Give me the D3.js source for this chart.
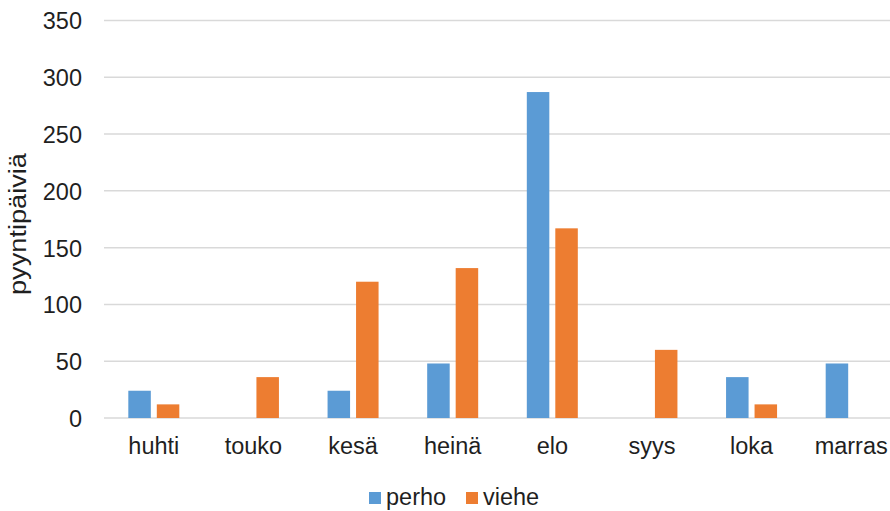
<!DOCTYPE html>
<html>
<head>
<meta charset="utf-8">
<script src="https://cdn.jsdelivr.net/npm/d3@7"></script>
<style>
  html, body { margin: 0; padding: 0; background: #ffffff; }
  svg { display: block; font-family: "Liberation Sans", Arial, sans-serif; }
</style>
</head>
<body>
<svg id="chart" width="890" height="511"></svg>
<script>
// Monthly fishing days by method
const months = ["huhti", "touko", "kesä", "heinä", "elo", "syys", "loka", "marras"];
const seriesNames = ["perho", "viehe"];
const perho = [24, 0, 24, 48, 287, 0, 36, 48];
const viehe = [12, 36, 120, 132, 167, 60, 12, 0];
const yTicks = [0, 50, 100, 150, 200, 250, 300, 350];
const yTitle = "pyyntipäiviä";
const colors = ["#5b9bd5", "#ed7d31"];

const svg = d3.select("#chart");
const W = 890, H = 511;
const FS = 23.5;

const x0 = d3.scaleBand().domain(months).range([104, 901]).padding(0);
const bw = x0.bandwidth();
const x1 = d3.scaleBand().domain(seriesNames)
  .range([bw / 2 - 25.5, bw / 2 + 25.5]).paddingInner(0.21).paddingOuter(0);
const y = d3.scaleLinear().domain([0, 350]).range([418, 20.5]);
const color = d3.scaleOrdinal().domain(seriesNames).range(colors);

// Horizontal gridlines
svg.append("g").selectAll("line").data(yTicks).join("line")
  .attr("x1", 104).attr("x2", W)
  .attr("y1", d => y(d)).attr("y2", d => y(d))
  .attr("stroke", "#d9d9d9").attr("stroke-width", 1.5);

// Y tick labels
const yAxis = d3.axisLeft(y).tickValues(yTicks).tickSize(0).tickPadding(0);
const gy = svg.append("g").attr("transform", "translate(82,0)").call(yAxis);
gy.select(".domain").remove();
gy.selectAll("text")
  .attr("font-size", FS).attr("fill", "#1f1f1f")
  .attr("font-family", "Liberation Sans, Arial, sans-serif")
  .attr("dy", "0.36em");

// Bars
const rows = months.map((m, i) => ({ month: m, values: [perho[i], viehe[i]] }));
const groups = svg.append("g").selectAll("g").data(rows).join("g")
  .attr("transform", d => `translate(${x0(d.month)},0)`);
groups.selectAll("rect")
  .data(d => seriesNames.map((s, j) => ({ s, v: d.values[j] })).filter(e => e.v > 0))
  .join("rect")
  .attr("x", d => x1(d.s))
  .attr("width", x1.bandwidth())
  .attr("y", d => y(d.v))
  .attr("height", d => y(0) - y(d.v))
  .attr("fill", d => color(d.s));

// Category labels
const xAxis = d3.axisBottom(x0).tickSize(0).tickPadding(0);
const gx = svg.append("g").attr("transform", "translate(0,454)").call(xAxis);
gx.select(".domain").remove();
gx.selectAll("text")
  .attr("font-size", FS).attr("fill", "#1f1f1f")
  .attr("font-family", "Liberation Sans, Arial, sans-serif")
  .attr("dy", 0);

// Y axis title
svg.append("text")
  .attr("transform", "translate(26,224) rotate(-90)")
  .attr("text-anchor", "middle")
  .attr("font-size", 23).attr("fill", "#1f1f1f")
  .attr("textLength", 142).attr("lengthAdjust", "spacingAndGlyphs")
  .text(yTitle);

// Legend
const legendX = [369, 466];
const legend = svg.append("g").selectAll("g").data(seriesNames).join("g")
  .attr("transform", (d, i) => `translate(${legendX[i]},0)`);
legend.append("rect")
  .attr("x", 0).attr("y", 492).attr("width", 12).attr("height", 12)
  .attr("fill", d => color(d));
legend.append("text")
  .attr("x", 17).attr("y", 505)
  .attr("font-size", FS).attr("fill", "#1f1f1f")
  .text(d => d);
</script>
</body>
</html>
